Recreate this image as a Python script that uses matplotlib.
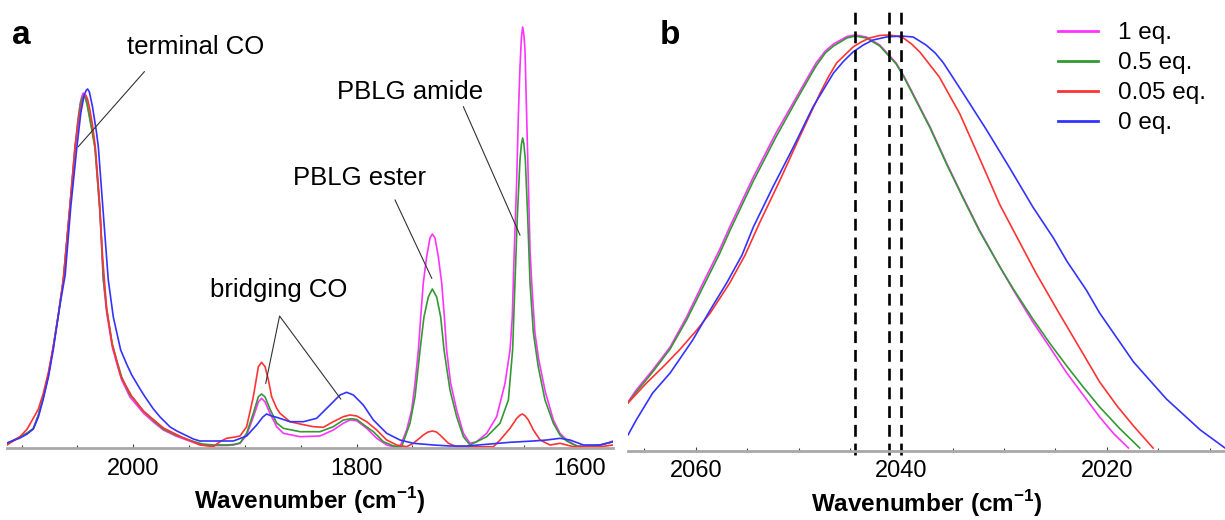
import numpy as np
import matplotlib
matplotlib.use('Agg')
import matplotlib.pyplot as plt
from matplotlib.ticker import MultipleLocator
from matplotlib.lines import Line2D

plt.rcParams['font.family'] = ['Liberation Sans', 'DejaVu Sans']
plt.rcParams['mathtext.fontset'] = 'custom'
plt.rcParams['mathtext.rm'] = 'Liberation Sans:bold'
plt.rcParams['mathtext.bf'] = 'Liberation Sans:bold'

labels = ['1 eq.', '0.5 eq.', '0.05 eq.', '0 eq.']
colors = ['#ff33ff', '#339933', '#ff3333', '#3333ff']

# ---- panel a: full spectra (wavenumber, absorbance a.u.) ----
a_wn_1 = [2113.1, 2101.5, 2095.0, 2089.6, 2085.0, 2080.6, 2076.0, 2071.7, 2067.0, 2062.7, 2057.3, 2052.2,
          2049.5, 2047.5, 2046.0, 2044.8, 2043.3, 2041.5, 2039.5, 2037.0, 2034.3, 2029.8, 2026.9, 2023.8,
          2018.8, 2014.9, 2010.4, 2003.0, 2000.0, 1991.0, 1982.0, 1973.1, 1962.0, 1952.2, 1946.0, 1940.0,
          1928.0, 1916.0, 1910.4, 1904.4, 1898.5, 1892.5, 1888.0, 1885.1, 1882.0, 1877.6, 1871.6, 1865.6,
          1850.7, 1832.8, 1820.9, 1812.0, 1805.9, 1799.9, 1791.0, 1782.0, 1773.1, 1767.1, 1761.1, 1755.2,
          1750.7, 1747.7, 1744.7, 1742.6, 1740.3, 1737.3, 1734.3, 1732.2, 1729.8, 1726.8, 1723.8, 1721.4,
          1719.4, 1715.8, 1710.4, 1704.4, 1698.5, 1692.5, 1683.5, 1674.6, 1667.1, 1662.6, 1660.6, 1659.7,
          1658.8, 1656.7, 1655.2, 1653.7, 1652.4, 1651.3, 1650.2, 1649.2, 1647.7, 1646.2, 1644.7, 1643.2,
          1640.3, 1637.0, 1631.0, 1623.8, 1617.9, 1611.9, 1602.9, 1594.0, 1582.0, 1575.0, 1570.4]
a_ab_1 = [3.5, 10, 14, 18, 32, 50, 72, 100, 133, 167, 234, 300,
          328, 344, 351, 354, 352, 345, 333, 318, 300, 234, 167, 134,
          100, 84, 67, 50, 46, 34, 25, 17, 11, 7, 4.5, 2,
          1.5, 1.5, 2, 3.7, 12, 30, 45, 48.7, 45, 33.7, 20.3, 13.7,
          10.3, 11, 17, 23.7, 27, 26.3, 18.7, 8.7, 2, 0.3, 0.3, 17,
          37, 63.7, 97, 130, 164, 190, 209, 213, 209, 190, 164, 130,
          97, 63.7, 37, 13.7, 3.7, 5.3, 13.7, 30.3, 63.7, 97, 130, 164,
          197, 264, 330, 380, 410, 420, 412, 397, 330, 264, 197, 164,
          114, 88, 55, 27, 13.7, 7, 1, 0.7, 2, 4, 6]

a_wn_05 = [2113.1, 2101.5, 2095.0, 2089.6, 2085.0, 2080.6, 2076.0, 2071.7, 2067.0, 2062.7, 2057.3, 2052.2,
           2049.5, 2047.5, 2046.0, 2044.6, 2043.0, 2041.3, 2039.3, 2037.0, 2034.3, 2029.8, 2026.9, 2023.8,
           2018.8, 2014.9, 2010.4, 2003.0, 2000.0, 1991.0, 1982.0, 1973.1, 1962.0, 1952.2, 1946.0, 1938.0,
           1928.0, 1916.0, 1910.4, 1904.4, 1898.5, 1892.5, 1888.0, 1885.1, 1882.0, 1877.6, 1871.6, 1865.6,
           1850.7, 1832.8, 1820.9, 1811.9, 1804.4, 1799.9, 1791.0, 1785.0, 1776.0, 1767.0, 1759.7, 1752.2,
           1747.7, 1743.2, 1739.7, 1735.8, 1732.2, 1728.3, 1724.7, 1721.7, 1716.4, 1710.4, 1704.4, 1698.5,
           1683.5, 1671.6, 1664.1, 1660.3, 1658.2, 1656.1, 1653.7, 1652.4, 1651.3, 1650.2, 1648.9, 1646.8,
           1644.7, 1641.7, 1637.3, 1631.3, 1623.8, 1617.9, 1611.9, 1605.0, 1600.0, 1590.0, 1582.0, 1575.0,
           1570.4]
a_ab_05 = [3.5, 10, 14, 18.5, 32, 50, 72, 100, 133, 167, 233, 298,
           326, 342, 349, 351, 349, 342, 330, 316, 299, 235, 170, 137,
           103, 87, 70, 52, 49, 36, 26.5, 18, 12, 8, 5.5, 3,
           2, 2, 2.5, 4, 13.7, 33.7, 50.3, 53, 50, 38, 24, 18.7,
           15.3, 15.3, 20.3, 27, 28.3, 27.5, 20, 15.3, 5.3, 1, 0.3, 23.7,
           50.3, 97, 130, 150, 158, 150, 130, 97, 57, 30.3, 10.3, 2,
           10.3, 23.7, 47, 97, 164, 230, 287, 303, 309, 303, 287, 230,
           164, 114, 80, 47, 23.7, 12, 6, 2, 0.3, 1, 2, 4,
           5]

a_wn_005 = [2113.1, 2101.5, 2095.0, 2089.6, 2085.0, 2080.6, 2076.0, 2071.7, 2067.0, 2062.7, 2057.3, 2052.2,
            2048.4, 2045.5, 2044.0, 2042.6, 2041.0, 2039.0, 2036.5, 2034.0, 2030.5, 2027.5, 2024.0, 2019.0,
            2011.0, 2001.0, 1991.0, 1973.0, 1955.0, 1946.0, 1940.0, 1928.3, 1922.4, 1916.4, 1910.4, 1904.4,
            1898.5, 1892.5, 1888.0, 1885.1, 1882.0, 1879.0, 1876.1, 1871.6, 1868.6, 1859.7, 1850.7, 1838.8,
            1829.8, 1820.9, 1811.9, 1805.9, 1799.9, 1791.0, 1782.0, 1773.1, 1764.1, 1755.2, 1749.2, 1740.2,
            1736.0, 1732.1, 1728.5, 1725.3, 1717.8, 1710.4, 1690.0, 1677.5, 1671.5, 1662.6, 1656.6, 1653.5,
            1651.5, 1649.0, 1646.2, 1641.7, 1635.7, 1626.8, 1617.8, 1605.9, 1582.0, 1570.4]
a_ab_005 = [2, 10.3, 18, 28.7, 38, 53.7, 75, 100, 133, 167, 234, 300,
            332, 347, 351, 352, 348, 338, 322, 300, 250, 190, 140, 103,
            70, 50, 36, 19, 9, 5, 2, 0.3, 5.3, 8.7, 9.7, 11,
            20.3, 50.3, 80.3, 84.7, 80.3, 67, 50.3, 38.7, 33.7, 25.3, 23, 20.3,
            19.7, 25.3, 30.3, 32, 31, 25.3, 17, 7, 2, 0.3, 3.7, 12,
            15, 16, 15, 12, 3.7, 0.3, 0.3, 0.3, 7, 18.7, 28.7, 32,
            33, 31, 27, 17, 7, 2, 3.7, 0.3, 0.3, 2]

a_wn_0 = [2113.1, 2101.5, 2095.0, 2089.6, 2085.0, 2080.6, 2076.0, 2071.7, 2066.0, 2061.0, 2056.0, 2050.5,
          2047.0, 2044.0, 2042.0, 2040.9, 2039.3, 2036.5, 2033.0, 2031.3, 2026.9, 2022.4, 2017.9, 2011.3,
          2006.0, 2001.4, 1995.0, 1990.0, 1982.0, 1976.0, 1967.0, 1961.0, 1946.2, 1940.3, 1910.4, 1898.5,
          1889.5, 1884.0, 1880.6, 1876.0, 1871.6, 1859.7, 1847.7, 1835.8, 1823.8, 1814.9, 1808.9, 1802.9,
          1794.0, 1785.0, 1773.1, 1761.2, 1749.2, 1731.2, 1716.4, 1701.4, 1683.5, 1662.6, 1641.7, 1629.8,
          1617.8, 1608.9, 1596.9, 1582.0, 1570.4]
a_ab_0 = [4, 9, 13, 18, 30, 48, 70, 97, 140, 172, 240, 300,
          334, 352, 357, 358, 355, 340, 315, 300, 234, 167, 130, 97,
          83, 72, 60, 51, 38, 30, 20, 16, 8, 6, 6, 11,
          22, 30, 33, 31, 29.7, 25.3, 25.3, 28.7, 42, 52, 54.7, 52,
          42, 27, 13.7, 7, 3.7, 2, 1, 1, 2.7, 4.7, 6, 7,
          8.7, 7, 2, 2, 5.3]

# ---- panel b: zoom on terminal CO band ----
b_wn_1 = [2066.6, 2065.8, 2064.2, 2062.5, 2060.9, 2059.3, 2057.7, 2056.7, 2054.4, 2052.2, 2050.2, 2049.2,
          2048.3, 2047.4, 2046.6, 2045.3, 2044.5, 2043.4, 2042.1, 2041.3, 2040.5, 2039.7, 2038.9, 2037.2,
          2035.6, 2034.0, 2032.4, 2030.4, 2029.1, 2027.2, 2025.5, 2023.9, 2022.3, 2020.7, 2019.3, 2017.9]
b_ab_1 = [48, 60, 80, 103, 133, 167, 200, 223, 273, 317, 353, 371,
          387, 399, 406, 413.5, 415, 413, 405, 396, 387, 373, 357, 323,
          287, 253, 220, 183, 160, 128, 102, 77, 55, 33, 16, 2]

b_wn_05 = [2066.6, 2065.8, 2064.2, 2062.5, 2060.9, 2059.3, 2057.7, 2056.7, 2054.4, 2052.2, 2050.2, 2049.2,
           2048.3, 2047.4, 2046.6, 2045.3, 2044.5, 2043.4, 2042.1, 2041.3, 2040.5, 2039.7, 2038.9, 2037.2,
           2035.6, 2034.0, 2032.4, 2030.4, 2029.1, 2027.2, 2025.5, 2023.9, 2022.3, 2020.7, 2018.7, 2016.8]
b_ab_05 = [47, 58, 78, 101, 130, 163, 196, 219, 269, 313, 350, 368,
           384, 397, 404, 412, 414, 412, 404, 395, 386, 372, 356, 322,
           286, 252, 219, 183, 161, 131, 106, 84, 63, 43, 21, 2]

b_wn_005 = [2066.6, 2064.8, 2063.2, 2061.6, 2059.9, 2058.6, 2056.7, 2055.2, 2053.8, 2051.8, 2049.9, 2047.9,
            2047.1, 2046.3, 2044.7, 2043.9, 2043.1, 2042.1, 2041.2, 2040.5, 2039.8, 2039.0, 2038.2, 2036.3,
            2034.3, 2032.4, 2030.4, 2028.5, 2026.9, 2024.6, 2022.3, 2020.7, 2019.0, 2017.4, 2015.5]
b_ab_005 = [47, 67, 83, 100, 120, 137, 167, 195, 227, 270, 313, 357,
            373, 387, 403, 408, 412, 414.5, 415, 414, 412, 406, 398, 373,
            336, 292, 245, 208, 177, 136, 96, 68, 44, 24, 2]

b_wn_0 = [2066.6, 2065.8, 2064.2, 2062.5, 2060.3, 2058.6, 2057.0, 2055.5, 2054.4, 2052.5, 2050.5, 2048.6,
          2046.6, 2045.6, 2044.7, 2043.7, 2042.75, 2041.45, 2040.0, 2038.85, 2037.6, 2036.7, 2035.9, 2034.0,
          2031.7, 2029.45, 2027.2, 2025.2, 2023.9, 2022.0, 2020.7, 2017.4, 2014.2, 2010.9, 2008.5]
b_ab_0 = [15, 30, 57, 77, 110, 140, 167, 195, 223, 263, 303, 343,
          377, 389, 398, 405, 410, 413, 414, 413, 405, 397, 387, 357,
          320, 282, 243, 212, 189, 160, 137, 88, 51, 20, 2]

peak_pos = [2044.5, 2041.2, 2040.0]

a_series = [(a_wn_1, a_ab_1), (a_wn_05, a_ab_05), (a_wn_005, a_ab_005), (a_wn_0, a_ab_0)]
b_series = [(b_wn_1, b_ab_1), (b_wn_05, b_ab_05), (b_wn_005, b_ab_005), (b_wn_0, b_ab_0)]

fig = plt.figure(figsize=(12.25, 5.2), dpi=100)
W, H = 1225.0, 520.0
ax1 = fig.add_axes([7 / W, (H - 448) / H, 606 / W, 443 / H])
ax2 = fig.add_axes([628 / W, (H - 450.5) / H, 597 / W, 438.5 / H])


def style_axis(ax, major, minor):
    for s in ['left', 'right', 'top']:
        ax.spines[s].set_visible(False)
    ax.spines['bottom'].set_color('#a8a8a8')
    ax.spines['bottom'].set_linewidth(2.0)
    ax.set_yticks([])
    ax.xaxis.set_major_locator(MultipleLocator(major))
    ax.xaxis.set_minor_locator(MultipleLocator(minor))
    ax.tick_params(axis='x', which='both', direction='in', color='#404040', width=0.8, labelsize=17, pad=7)
    ax.tick_params(axis='x', which='major', length=3)
    ax.tick_params(axis='x', which='minor', length=2)
    ax.set_xlabel(r'Wavenumber (cm$^{\mathbf{-1}}$)', fontsize=17.5, fontweight='bold', labelpad=4)
    ax.patch.set_visible(False)


for (wn, ab), c in zip(a_series, colors):
    ax1.plot(wn, ab, color=c, lw=1.2)
ax1.set_xlim(2113.1, 1570.4)
ax1.set_ylim(-1, 442)
style_axis(ax1, 200, 50)

# annotations in panel a
ann_col = '#333333'
ax1.text(1943.8, 400, 'terminal CO', fontsize=18.5, ha='center', va='center')
ax1.plot([1990.1, 2049.3], [375.3, 300.3], color=ann_col, lw=0.8)
ax1.text(1870, 157, 'bridging CO', fontsize=18.5, ha='center', va='center')
ax1.plot([1881.4, 1869, 1814.2], [63.7, 131, 48], color=ann_col, lw=0.8)
ax1.text(1797, 269, 'PBLG ester', fontsize=18.5, ha='center', va='center')
ax1.plot([1765.6, 1732.7], [247, 168.7], color=ann_col, lw=0.8)
ax1.text(1752.3, 355, 'PBLG amide', fontsize=18.5, ha='center', va='center')
ax1.plot([1704.4, 1653.7], [340.3, 212], color=ann_col, lw=0.8)

for (wn, ab), c in zip(b_series, colors):
    ax2.plot(wn, ab, color=c, lw=1.2)
ax2.vlines(peak_pos, -5, 438, colors='k', linestyles=(0, (4.5, 2.6)), lw=1.9, clip_on=False)
ax2.set_xlim(2066.6, 2008.5)
ax2.set_ylim(-0.5, 438)
style_axis(ax2, 20, 5)

handles = [Line2D([0], [0], color=c, lw=2) for c in colors]
fig.legend(handles, labels, loc='upper left', bbox_to_anchor=(1058 / W, 1 - 22 / H),
           frameon=False, fontsize=17.5, handlelength=1.65, handletextpad=0.82,
           labelspacing=0.33, borderpad=0, borderaxespad=0)

fig.text(21 / W, 1 - 36 / H, 'a', fontsize=24, fontweight='bold', ha='center', va='center')
fig.text(670 / W, 1 - 35 / H, 'b', fontsize=24, fontweight='bold', ha='center', va='center')

fig.savefig('out.png', dpi=100)
